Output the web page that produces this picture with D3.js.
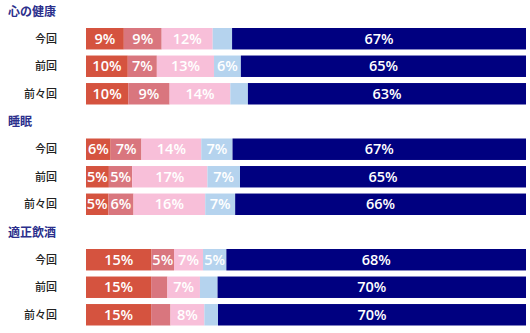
<!DOCTYPE html>
<html><head><meta charset="utf-8">
<script src="https://cdn.jsdelivr.net/npm/d3@7"></script>
<style>
html,body{margin:0;padding:0;background:#fff;}
svg{display:block;}
</style>
</head><body>
<svg id="chart" width="530" height="333"></svg>
<script>
// ---- data ----
const groups = ["心の健康", "睡眠", "適正飲酒"];
const periods = ["今回", "前回", "前々回"];
const segments = ["s1", "s2", "s3", "s4", "s5"];
// values (%) per period, in order of segments
const mentalHealth = [
  [8.6, 8.6, 11.6, 4.4, 66.8],
  [9.5, 6.6, 13.0, 6.1, 64.8],
  [9.6, 9.4, 13.8, 4.0, 63.2]
];
const sleep = [
  [5.6, 7.0, 13.6, 7.1, 66.7],
  [5.2, 5.3, 17.1, 7.4, 65.0],
  [5.1, 5.7, 16.3, 6.8, 66.1]
];
const drinking = [
  [14.9, 5.1, 6.6, 5.3, 68.1],
  [14.8, 3.7, 7.4, 4.0, 70.1],
  [14.8, 4.4, 7.7, 3.1, 70.0]
];
const groupValues = [mentalHealth, sleep, drinking];
const colors = ["#d5533f", "#d9767e", "#f8bfd9", "#b5d3ee", "#000080"];

// ---- drawing ----
const svg = d3.select("#chart");
const x = d3.scaleLinear().domain([0, 100]).range([86, 526]);
const gy = d3.scaleBand().domain(groups).range([28, 28 + 3 * 110.5]).padding(0);
const py = d3.scaleBand().domain(periods).range([0, 76.5]).paddingInner(0.22).paddingOuter(0);
const color = d3.scaleOrdinal().domain(segments).range(colors);
const stack = d3.stack().keys(segments.map((k, i) => i));

groups.forEach((gname, gi) => {
  const g = svg.append("g").attr("transform", `translate(0,${gy(gname)})`);
  g.append("text")
    .attr("x", 8).attr("y", -12.5)
    .attr("font-family", "'Noto Sans CJK JP', sans-serif")
    .attr("font-size", 12).attr("font-weight", "bold")
    .attr("fill", "#2b2f8c")
    .text(gname);

  const rows = groupValues[gi].map((vals, pi) => {
    const o = { period: periods[pi] };
    vals.forEach((v, si) => o[si] = v);
    return o;
  });
  const series = stack(rows);

  // row labels
  g.selectAll("text.row").data(periods).join("text")
    .attr("class", "row")
    .attr("x", 57)
    .attr("y", d => py(d) + py.bandwidth() / 2)
    .attr("dy", "0.36em")
    .attr("text-anchor", "end")
    .attr("font-family", "'Noto Sans CJK JP', sans-serif")
    .attr("font-size", 11)
    .attr("font-weight", 500)
    .attr("fill", "#222")
    .text(d => d);

  series.forEach((s, si) => {
    const sg = g.append("g");
    sg.selectAll("rect").data(s).join("rect")
      .attr("x", d => x(d[0]))
      .attr("y", d => py(d.data.period))
      .attr("width", d => x(d[1]) - x(d[0]))
      .attr("height", py.bandwidth())
      .attr("fill", color(segments[si]));
    sg.selectAll("text").data(s.filter(d => d[1] - d[0] >= 5)).join("text")
      .attr("x", d => (x(d[0]) + x(d[1])) / 2)
      .attr("y", d => py(d.data.period) + py.bandwidth() / 2)
      .attr("dy", "0.36em")
      .attr("text-anchor", "middle")
      .attr("font-family", "'Open Sans', sans-serif")
      .attr("font-size", 14.5)
      .attr("font-weight", 600)
      .attr("fill", "#fff")
      .text(d => Math.round(d[1] - d[0]) + "%");
  });
});
</script>
</body></html>
